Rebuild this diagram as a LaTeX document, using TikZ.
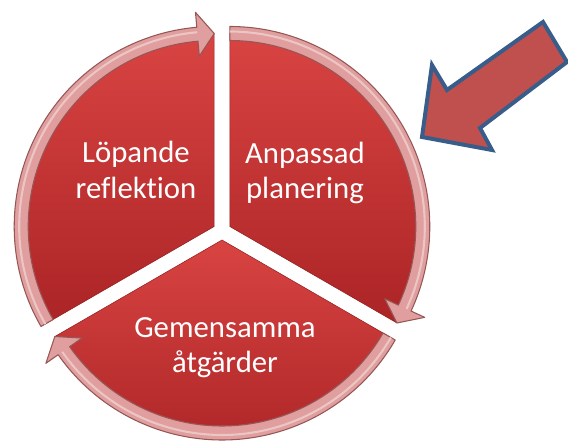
\documentclass[tikz,border=0pt]{standalone}
\usepackage{fontspec}
\setmainfont{Carlito}[Ligatures=NoCommon]
\usetikzlibrary{calc}

\definecolor{sectortop}{RGB}{216,68,66}
\definecolor{sectorbot}{RGB}{172,36,38}
\definecolor{ringfill}{RGB}{224,158,158}
\definecolor{ringedge}{RGB}{150,86,86}
\definecolor{bigred}{RGB}{192,80,77}
\definecolor{bigblue}{RGB}{56,93,138}

% ring arrow round a sector: centre, start angle, head base angle, tip angle
\newcommand{\cyclearrow}[4]{%
  \draw[ring] ($(#1)+(#2:200)$) arc[start angle=#2, end angle=#3, radius=200]
    -- ($(#1)+(#3:215)$) -- ($(#1)+(#4:193)$) -- ($(#1)+(#3:171)$)
    -- ($(#1)+(#3:186)$) arc[start angle=#3, end angle=#2, radius=186] -- cycle;
  \draw[ringlight] ($(#1)+(#2:195)$) arc[start angle=#2, end angle=#3, radius=195];}

\begin{document}
\begin{tikzpicture}[x=0.02cm,y=0.02cm,
  sector/.style={top color=sectortop, bottom color=sectorbot, draw=sectorbot!85!black, line width=0.3pt},
  ring/.style={fill=ringfill, draw=ringedge, line width=0.6pt, line join=round},
  ringlight/.style={draw=ringfill!60!white, line width=1.2pt},
  sectortext/.style={text=white, font=\fontsize{17.5}{20}\selectfont, align=center},
  bigarrow/.style={fill=bigred, draw=bigblue, line width=0.8mm}]
\useasboundingbox (0,0) rectangle (568,443);

% centres of the three pieces (pie pulled apart a little)
\coordinate (c1) at ($(222,212)+(150:9)$);
\coordinate (c2) at ($(222,212)+(30:9)$);
\coordinate (c3) at ($(222,212)+(270:9)$);

% the pieces
\path[sector] (c1) -- ($(c1)+(90:193)$) arc[start angle=90, end angle=210, radius=193] -- cycle;
\path[sector] (c2) -- ($(c2)+(-30:193)$) arc[start angle=-30, end angle=90, radius=193] -- cycle;
\path[sector] (c3) -- ($(c3)+(-150:193)$) arc[start angle=-150, end angle=-30, radius=193] -- cycle;

% the arrows round the rim
\cyclearrow{c1}{210}{95}{90}
\cyclearrow{c2}{90}{-25}{-30}
\cyclearrow{c3}{-30}{-145}{-150}

\node[sectortext] (lop) at (136,273) {Löpande\\reflektion};
\node[sectortext] (anp) at (305,270) {Anpassad\\planering};
\node[sectortext] (gem) at (225,95) {Gemensamma\\åtgärder};

% pointer
\draw[bigarrow] (422,306) -- (432,378) -- (447,353) -- (543,421) -- (567,381)
  -- (480,315) -- (492,293) -- cycle;

\end{tikzpicture}
\end{document}
